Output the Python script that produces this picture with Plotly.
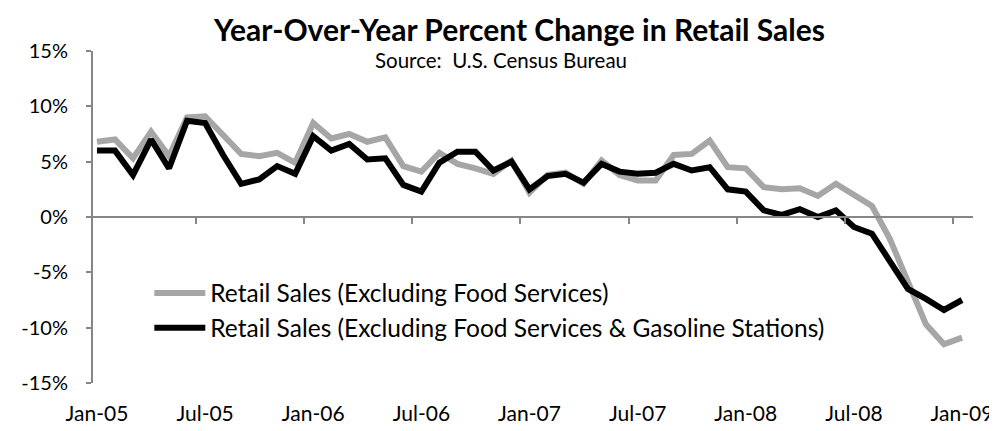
import plotly.graph_objects as go

# monthly, Jan-05 .. Jan-09
months = [
    "Jan-05", "Feb-05", "Mar-05", "Apr-05", "May-05", "Jun-05", "Jul-05", "Aug-05", "Sep-05", "Oct-05", "Nov-05", "Dec-05",
    "Jan-06", "Feb-06", "Mar-06", "Apr-06", "May-06", "Jun-06", "Jul-06", "Aug-06", "Sep-06", "Oct-06", "Nov-06", "Dec-06",
    "Jan-07", "Feb-07", "Mar-07", "Apr-07", "May-07", "Jun-07", "Jul-07", "Aug-07", "Sep-07", "Oct-07", "Nov-07", "Dec-07",
    "Jan-08", "Feb-08", "Mar-08", "Apr-08", "May-08", "Jun-08", "Jul-08", "Aug-08", "Sep-08", "Oct-08", "Nov-08", "Dec-08",
    "Jan-09",
]

# YoY % change, excluding food services
ex_food = [
    6.8, 7.0, 5.3, 7.7, 5.5, 9.0, 9.1, 7.4, 5.7, 5.5, 5.8, 4.9,
    8.5, 7.1, 7.5, 6.8, 7.2, 4.6, 4.1, 5.8, 4.8, 4.4, 3.9, 5.1,
    2.2, 3.8, 4.0, 3.0, 5.1, 3.8, 3.3, 3.3, 5.6, 5.7, 6.9, 4.5,
    4.4, 2.7, 2.5, 2.6, 1.9, 3.0, 2.0, 1.0, -2.0, -6.0, -9.7, -11.5,
    -10.9,
]

# YoY % change, excluding food services & gasoline stations
ex_food_gas = [
    6.0, 6.0, 3.8, 7.0, 4.4, 8.7, 8.5, 5.6, 3.0, 3.4, 4.6, 3.9,
    7.3, 6.0, 6.6, 5.2, 5.3, 2.9, 2.3, 4.9, 5.9, 5.9, 4.2, 5.0,
    2.5, 3.7, 3.9, 3.1, 4.8, 4.1, 3.9, 4.0, 4.8, 4.2, 4.5, 2.5,
    2.3, 0.6, 0.2, 0.7, 0.0, 0.6, -0.9, -1.5, -4.0, -6.5, -7.4, -8.4,
    -7.5,
]

x_tick_labels = ["Jan-05", "Jul-05", "Jan-06", "Jul-06", "Jan-07", "Jul-07", "Jan-08", "Jul-08", "Jan-09"]
y_ticks = [-15, -10, -5, 0, 5, 10, 15]
y_tick_text = ["-15%", "-10%", "-5%", "0%", "5%", "10%", "15%"]

FONT = "Lato, 'Open Sans', sans-serif"
AXIS_GREY = "#868686"
x_range = [-0.22, len(months) - 1 + 0.61]
# tick marks sit on the month boundary just before each labelled month
boundary_ticks = [months.index(m) - 0.5 for m in x_tick_labels[1:]]

fig = go.Figure()
fig.add_trace(go.Scatter(
    x=months, y=ex_food, mode="lines", name="Retail Sales (Excluding Food Services)",
    line=dict(color="#A6A6A6", width=6), legendgroup="a",
))
fig.add_trace(go.Scatter(
    x=months, y=ex_food_gas, mode="lines",
    name="Retail Sales (Excluding Food Services & Gasoline Stations)",
    line=dict(color="#000000", width=6), legendgroup="b",
))
# empty trace so the zero-crossing axis (x2) gets drawn
fig.add_trace(go.Scatter(x=[], y=[], xaxis="x2", showlegend=False, hoverinfo="skip"))

# page body sits 8px in from the window corner, so the figure is 8px smaller than the window
fig.update_layout(
    width=989, height=423,
    margin=dict(l=85, r=24, t=43, b=48, autoexpand=False),
    paper_bgcolor="white", plot_bgcolor="white",
    font=dict(family=FONT, color="black"),
    showlegend=True,
    legend=dict(
        x=0.064, y=0.339, xanchor="left", yanchor="top",
        font=dict(size=24.5, family=FONT), bgcolor="rgba(0,0,0,0)",
        tracegroupgap=0, itemwidth=51,
    ),
    xaxis=dict(
        type="category", categoryarray=months, range=x_range, automargin=False,
        tickvals=x_tick_labels, ticks="", ticklabelstandoff=16,
        tickfont=dict(size=21), showline=False, showgrid=False, zeroline=False,
    ),
    xaxis2=dict(
        overlaying="x", anchor="free", position=0.5, type="linear", range=x_range,
        automargin=False,
        tickvals=boundary_ticks, ticks="outside", ticklen=6, tickwidth=2, tickcolor=AXIS_GREY,
        showline=True, linecolor=AXIS_GREY, linewidth=2,
        showticklabels=False, showgrid=False, zeroline=False,
    ),
    yaxis=dict(
        range=[-15, 15], tickvals=y_ticks, ticktext=y_tick_text, automargin=False,
        ticks="outside", ticklen=5, tickwidth=2, tickcolor=AXIS_GREY,
        showline=True, linecolor=AXIS_GREY, linewidth=2,
        showgrid=False, zeroline=False, ticklabelstandoff=14,
        tickfont=dict(size=20),
    ),
    annotations=[
        dict(text="<b>Year-Over-Year Percent Change in Retail Sales</b>", x=0.484, y=1.066,
             xref="paper", yref="paper", yanchor="middle", showarrow=False, font=dict(size=30)),
        dict(text="Source:  U.S. Census Bureau", x=0.464, y=0.973,
             xref="paper", yref="paper", yanchor="middle", showarrow=False, font=dict(size=20.5)),
    ],
)

fig.write_html("out.html")
